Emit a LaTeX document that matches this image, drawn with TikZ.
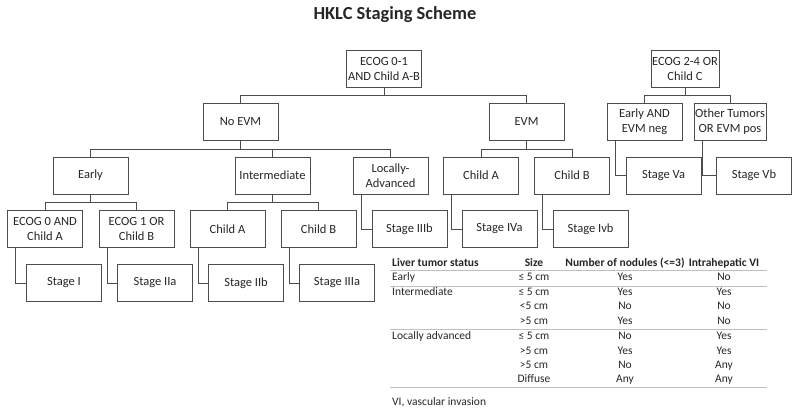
\documentclass[tikz,border=0pt]{standalone}
\usepackage{fontspec}
\setmainfont{Carlito}
\tikzset{
  box/.style={draw=black!70, line width=0.8pt, minimum width=75pt, minimum height=37pt,
    align=center, inner sep=1pt, text=black!85, font=\fontsize{12.5}{15}\selectfont},
  link/.style={draw=black!70, line width=0.8pt},
  tab/.style={inner sep=0pt, text=black!85, text height=8pt, text depth=2.5pt,
    font=\fontsize{11.5}{13}\selectfont},
  tabhead/.style={tab, font=\bfseries\fontsize{11.5}{13}\selectfont},
  rule/.style={draw=black!25, line width=1pt}
}
\begin{document}
\begin{tikzpicture}[x=1pt,y=-1pt]
\useasboundingbox (0,0) rectangle (800,408);
\node[font=\bfseries\fontsize{18.4}{20}\selectfont, text=black!85] (title) at (395,15) {HKLC Staging Scheme};

% first split
\node[box] (ecogA) at (384,69) {ECOG 0-1\\AND Child A-B};
\node[box, minimum width=66pt] (ecogC) at (685,69) {ECOG 2-4 OR\\Child C};

\node[box] (noevm) at (240.5,121.5) {No EVM};
\node[box] (evm) at (526.5,121.5) {EVM};
\node[box] (earlyneg) at (644.5,121.5) {Early AND\\EVM neg};
\node[box, minimum width=66pt] (otherpos) at (730,121.5) {Other Tumors\\OR EVM pos};

\node[box] (early) at (90.5,175.5) {Early};
\node[box] (inter) at (272.5,175.5) {Intermediate};
\node[box] (locadv) at (390.5,175.5) {Locally-\\Advanced};
\node[box] (childA) at (481,175.5) {Child A};
\node[box] (childB) at (572,175.5) {Child B};
\node[box] (stageVa) at (663.5,175.5) {Stage Va};
\node[box] (stageVb) at (754,175.5) {Stage Vb};

\node[box] (ecog0) at (45,229) {ECOG 0 AND\\Child A};
\node[box] (ecog1) at (136.5,229) {ECOG 1 OR\\Child B};
\node[box] (interA) at (227.5,229) {Child A};
\node[box] (interB) at (318.5,229) {Child B};
\node[box] (stageIIIb) at (409.5,229) {Stage IIIb};
\node[box] (stageIVa) at (499.5,229) {Stage IVa};
\node[box] (stageIVb) at (590.5,229) {Stage Ivb};

\node[box] (stageI) at (64,283) {Stage I};
\node[box] (stageIIa) at (155,283) {Stage IIa};
\node[box] (stageIIb) at (246,283) {Stage IIb};
\node[box] (stageIIIa) at (337,283) {Stage IIIa};

% tree lines
\draw[link] (ecogA.south) -- ++(0,7.5) -| (noevm.north);
\draw[link] (ecogA.south) -- ++(0,7.5) -| (evm.north);
\draw[link] (ecogC.south) -- ++(0,7.5) -| (earlyneg.north);
\draw[link] (ecogC.south) -- ++(0,7.5) -| (otherpos.north);
\draw[link] (noevm.south) -- ++(0,8.5) -| (early.north);
\draw[link] (noevm.south) -- ++(0,8.5) -| (inter.north);
\draw[link] (noevm.south) -- ++(0,8.5) -| (locadv.north);
\draw[link] (evm.south) -- ++(0,8.5) -| (childA.north);
\draw[link] (evm.south) -- ++(0,8.5) -| (childB.north);
\draw[link] (early.south) -- ++(0,8) -| (ecog0.north);
\draw[link] (early.south) -- ++(0,8) -| (ecog1.north);
\draw[link] (inter.south) -- ++(0,8) -| (interA.north);
\draw[link] (inter.south) -- ++(0,8) -| (interB.north);

% elbows to the stages
\draw[link] ([xshift=8.5pt]earlyneg.south west) |- (stageVa.west);
\draw[link] ([xshift=8.5pt]otherpos.south west) |- (stageVb.west);
\draw[link] ([xshift=8.5pt]locadv.south west) |- (stageIIIb.west);
\draw[link] ([xshift=8.5pt]childA.south west) |- (stageIVa.west);
\draw[link] ([xshift=8.5pt]childB.south west) |- (stageIVb.west);
\draw[link] ([xshift=8.5pt]ecog0.south west) |- (stageI.west);
\draw[link] ([xshift=8.5pt]ecog1.south west) |- (stageIIa.west);
\draw[link] ([xshift=8.5pt]interA.south west) |- (stageIIb.west);
\draw[link] ([xshift=8.5pt]interB.south west) |- (stageIIIa.west);

% table
\node[tabhead, anchor=west] (hStatus) at (392,264) {Liver tumor status};
\node[tabhead] (hSize) at (534,264) {Size};
\node[tabhead] (hNod) at (625,264) {Number of nodules (<=3)};
\node[tabhead] (hVI) at (724,264) {Intrahepatic VI};
\node[tab, anchor=west] (stEarly) at (392,278) {Early};
\node[tab, anchor=west] (stInter) at (392,293) {Intermediate};
\node[tab, anchor=west] (stLoc) at (392,337) {Locally advanced};
\foreach \y/\sz/\nn/\vi [count=\i] in {278/≤ 5 cm/Yes/No, 293/≤ 5 cm/Yes/Yes,
    307/<5 cm/No/No, 322/>5 cm/Yes/No, 337/≤ 5 cm/No/Yes, 352/>5 cm/Yes/Yes,
    366/>5 cm/No/Any, 380/Diffuse/Any/Any}{
  \node[tab] (size\i) at (534,\y) {\sz};
  \node[tab] (nod\i) at (625,\y) {\nn};
  \node[tab] (vi\i) at (724,\y) {\vi};
}
\foreach \y in {270,286,329,387}
  \draw[rule] (390,\y) -- (767,\y);
\node[tab, anchor=west] (note) at (392,403) {VI, vascular invasion};
\end{tikzpicture}
\end{document}
